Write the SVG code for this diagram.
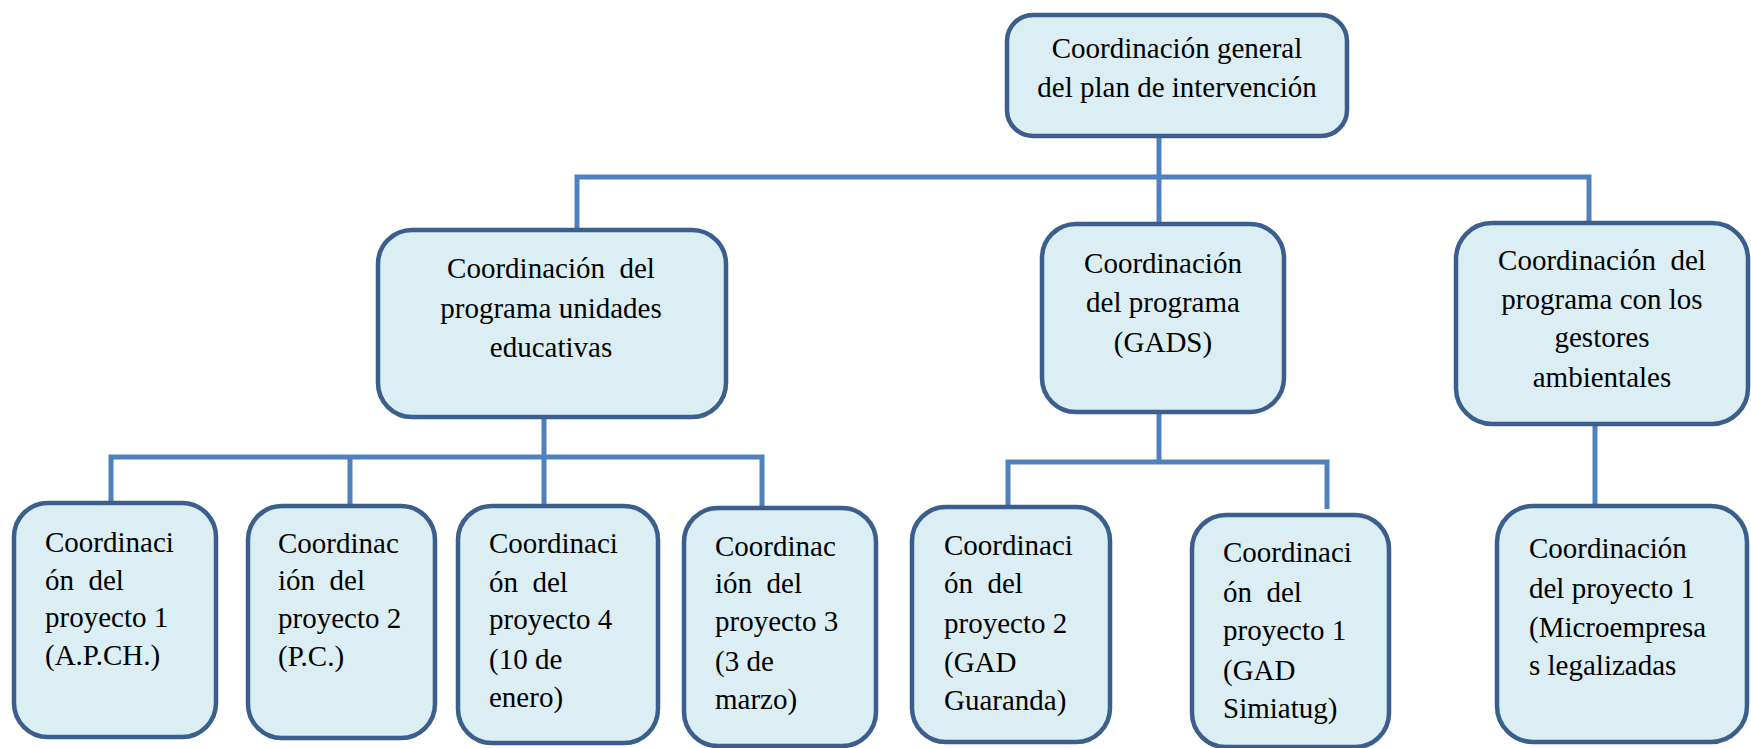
<svg xmlns="http://www.w3.org/2000/svg" width="1751" height="748" viewBox="0 0 1751 748">
<style>
.box{fill:#DBEEF4;stroke:#3B5E8C;stroke-width:4.5}
.t{font-family:"Liberation Serif","Times New Roman",serif;font-size:29px;fill:#000}
.c{text-anchor:middle}
.ln{fill:none;stroke:#4F81BD;stroke-width:5}
</style>
<rect width="1751" height="748" fill="#fff"/>
<g id="connectors">
<path class="ln" d="M1159 137V229M577 228V177H1589V227"/>
<path class="ln" d="M544 418V507M111 505V457H762V506M350 457V505"/>
<path class="ln" d="M1159 413V462M1008 511V462H1327V509"/>
<path class="ln" d="M1595 425V512"/>
</g>
<g id="n_general">
<rect class="box" x="1007" y="15" width="340" height="121" rx="26"/>
<text class="t c" x="1177" y="58">Coordinación general</text>
<text class="t c" x="1177" y="97">del plan de intervención</text>
</g>
<g id="n_unidades">
<rect class="box" x="378" y="230" width="348" height="187" rx="34"/>
<text class="t c" x="551" y="278" xml:space="preserve">Coordinación  del</text>
<text class="t c" x="551" y="318">programa unidades</text>
<text class="t c" x="551" y="357">educativas</text>
</g>
<g id="n_gads">
<rect class="box" x="1042" y="224" width="242" height="188" rx="34"/>
<text class="t c" x="1163" y="273">Coordinación</text>
<text class="t c" x="1163" y="312">del programa</text>
<text class="t c" x="1163" y="352">(GADS)</text>
</g>
<g id="n_gestores">
<rect class="box" x="1456" y="223" width="292" height="201" rx="36"/>
<text class="t c" x="1602" y="270" xml:space="preserve">Coordinación  del</text>
<text class="t c" x="1602" y="309">programa con los</text>
<text class="t c" x="1602" y="347">gestores</text>
<text class="t c" x="1602" y="387">ambientales</text>
</g>
<g id="n_p1_apch">
<rect class="box" x="14" y="503" width="202" height="234" rx="34"/>
<text class="t" x="45" y="552">Coordinaci</text>
<text class="t" x="45" y="590" xml:space="preserve">ón  del</text>
<text class="t" x="45" y="627">proyecto 1</text>
<text class="t" x="45" y="665">(A.P.CH.)</text>
</g>
<g id="n_p2_pc">
<rect class="box" x="248" y="506" width="187" height="232" rx="34"/>
<text class="t" x="278" y="553">Coordinac</text>
<text class="t" x="278" y="590" xml:space="preserve">ión  del</text>
<text class="t" x="278" y="628">proyecto 2</text>
<text class="t" x="278" y="666">(P.C.)</text>
</g>
<g id="n_p4_enero">
<rect class="box" x="458" y="506" width="200" height="237" rx="34"/>
<text class="t" x="489" y="553">Coordinaci</text>
<text class="t" x="489" y="592" xml:space="preserve">ón  del</text>
<text class="t" x="489" y="629">proyecto 4</text>
<text class="t" x="489" y="669">(10 de</text>
<text class="t" x="489" y="707">enero)</text>
</g>
<g id="n_p3_marzo">
<rect class="box" x="684" y="508" width="192" height="238" rx="34"/>
<text class="t" x="715" y="556">Coordinac</text>
<text class="t" x="715" y="593" xml:space="preserve">ión  del</text>
<text class="t" x="715" y="631">proyecto 3</text>
<text class="t" x="715" y="671">(3 de</text>
<text class="t" x="715" y="709">marzo)</text>
</g>
<g id="n_p2_guaranda">
<rect class="box" x="912" y="507" width="198" height="235" rx="34"/>
<text class="t" x="944" y="555">Coordinaci</text>
<text class="t" x="944" y="593" xml:space="preserve">ón  del</text>
<text class="t" x="944" y="633">proyecto 2</text>
<text class="t" x="944" y="672">(GAD</text>
<text class="t" x="944" y="710">Guaranda)</text>
</g>
<g id="n_p1_simiatug">
<rect class="box" x="1192" y="515" width="197" height="232" rx="34"/>
<text class="t" x="1223" y="562">Coordinaci</text>
<text class="t" x="1223" y="602" xml:space="preserve">ón  del</text>
<text class="t" x="1223" y="640">proyecto 1</text>
<text class="t" x="1223" y="680">(GAD</text>
<text class="t" x="1223" y="718">Simiatug)</text>
</g>
<g id="n_p1_micro">
<rect class="box" x="1497" y="506" width="250" height="236" rx="36"/>
<text class="t" x="1529" y="558">Coordinación</text>
<text class="t" x="1529" y="598">del proyecto 1</text>
<text class="t" x="1529" y="637">(Microempresa</text>
<text class="t" x="1529" y="675">s legalizadas</text>
</g>
</svg>
